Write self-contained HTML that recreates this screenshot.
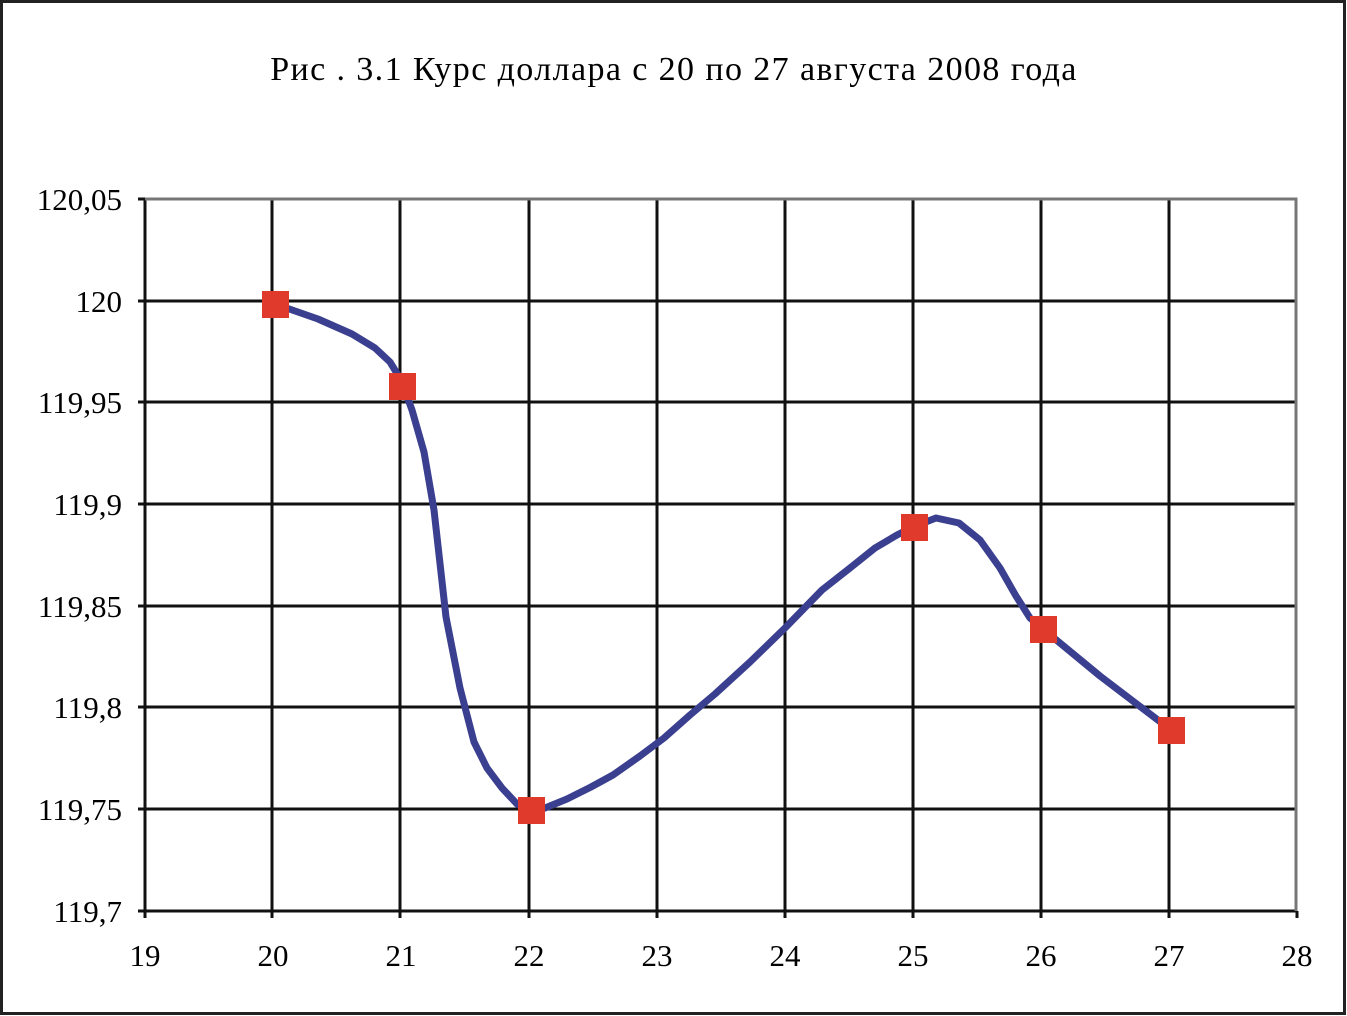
<!DOCTYPE html>
<html><head><meta charset="utf-8"><style>
html,body{margin:0;padding:0;background:#fff;}
svg{display:block;}
text{font-family:"Liberation Serif",serif;fill:#000;}
</style></head><body>
<svg width="1347" height="1016" xmlns="http://www.w3.org/2000/svg">
<rect x="1.5" y="1.5" width="1343" height="1012" fill="#fff" stroke="#222" stroke-width="3"/>
<text x="674" y="80" font-size="34" letter-spacing="1.4" text-anchor="middle">Рис . 3.1 Курс доллара с 20 по 27 августа 2008 года</text>
<g stroke="#111" stroke-width="3">
<line x1="145" y1="301" x2="1297" y2="301"/>
<line x1="145" y1="402" x2="1297" y2="402"/>
<line x1="145" y1="504" x2="1297" y2="504"/>
<line x1="145" y1="606" x2="1297" y2="606"/>
<line x1="145" y1="707" x2="1297" y2="707"/>
<line x1="145" y1="809" x2="1297" y2="809"/>
<line x1="272" y1="199" x2="272" y2="918"/>
<line x1="400" y1="199" x2="400" y2="918"/>
<line x1="529" y1="199" x2="529" y2="918"/>
<line x1="657" y1="199" x2="657" y2="918"/>
<line x1="785" y1="199" x2="785" y2="918"/>
<line x1="913" y1="199" x2="913" y2="918"/>
<line x1="1041" y1="199" x2="1041" y2="918"/>
<line x1="1169" y1="199" x2="1169" y2="918"/>
<line x1="1297" y1="911" x2="1297" y2="918"/>
<line x1="138" y1="199" x2="145" y2="199"/>
<line x1="138" y1="301" x2="145" y2="301"/>
<line x1="138" y1="402" x2="145" y2="402"/>
<line x1="138" y1="504" x2="145" y2="504"/>
<line x1="138" y1="606" x2="145" y2="606"/>
<line x1="138" y1="707" x2="145" y2="707"/>
<line x1="138" y1="809" x2="145" y2="809"/>
<line x1="138" y1="911" x2="1297" y2="911"/>
<line x1="145" y1="199" x2="145" y2="918"/>
</g>
<polyline points="145,199 1296,199 1296,911" fill="none" stroke="#777" stroke-width="3"/>
<g font-size="31" text-anchor="end">
<text x="122" y="210">120,05</text>
<text x="122" y="312">120</text>
<text x="122" y="413">119,95</text>
<text x="122" y="515">119,9</text>
<text x="122" y="617">119,85</text>
<text x="122" y="718">119,8</text>
<text x="122" y="820">119,75</text>
<text x="122" y="922">119,7</text>
</g>
<g font-size="31" text-anchor="middle">
<text x="145" y="966">19</text><text x="273" y="966">20</text><text x="401" y="966">21</text>
<text x="529" y="966">22</text><text x="657" y="966">23</text><text x="785" y="966">24</text>
<text x="913" y="966">25</text><text x="1041" y="966">26</text><text x="1169" y="966">27</text>
<text x="1297" y="966">28</text>
</g>
<polyline fill="none" stroke="#3a3f8f" stroke-width="7" stroke-linejoin="round" stroke-linecap="round"
points="275,304 318,319 352,334 375,348 390,362 401,380 412,410 424,452 434,510 446,617 460,688 474,742 487,768 502,788 517,804 531,810 545,808 567,799 591,787 613,775 640,756 664,738 690,715 715,694 750,662 785,628 822,590 850,568 875,548 897,535 913,527 936,518 959,523 980,540 1000,568 1016,596 1030,618 1043,629 1100,676 1171,730"/>
<g fill="#e03a2c">
<rect x="262" y="291" width="27" height="27"/>
<rect x="389" y="373" width="27" height="27"/>
<rect x="518" y="797" width="27" height="27"/>
<rect x="901" y="514" width="27" height="27"/>
<rect x="1030" y="616" width="27" height="27"/>
<rect x="1158" y="717" width="27" height="27"/>
</g>
</svg>
</body></html>
